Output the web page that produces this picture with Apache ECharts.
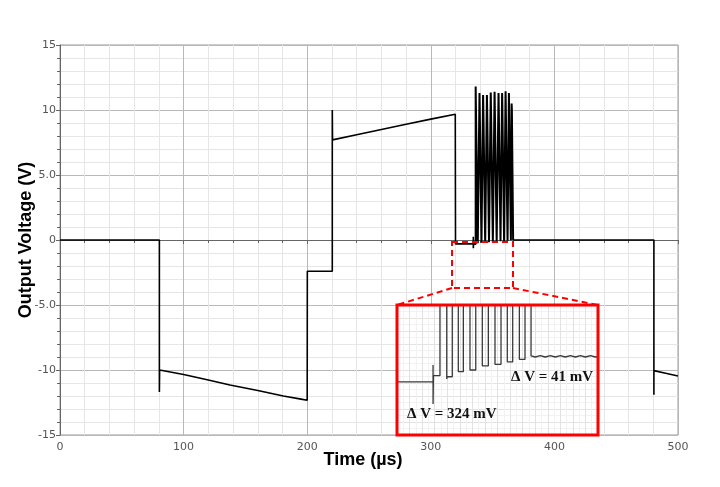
<!DOCTYPE html>
<html><head><meta charset="utf-8">
<script src="https://cdn.jsdelivr.net/npm/echarts@6/dist/echarts.min.js"></script>
<style>html,body{margin:0;padding:0;background:#fff}#c{width:720px;height:487px}</style>
</head><body><div id="c"></div>
<script>
// ---- Main trace: time (µs) / output voltage (V). Repeated times = vertical edges.
const preTime = [0, 80.4, 80.4, 80.6, 100, 120, 137.5, 160, 180.7, 195, 200.0, 200.1, 220.3, 220.3, 220.5, 240, 260, 280, 300, 319.8, 320.0, 334.4, 334.4, 334.4, 334.6];
const preVolt = [0, 0, -11.7, -10.0, -10.35, -10.77, -11.15, -11.58, -12.0, -12.24, -12.33, -2.4, -2.4, 10.0, 7.7, 8.1, 8.5, 8.9, 9.3, 9.68, -0.3, -0.3, 0.25, -0.64, -0.3];

// Burst of pulses (µs / V)
const burstRise  = [336.3, 339.4, 342.3, 345.4, 348.5, 351.6, 354.8, 357.7, 360.5, 363.2, 365.4];
const burstFall  = [338.0, 341.0, 344.0, 347.1, 350.2, 353.3, 356.4, 359.3, 362.1, 364.8, 366.6];
const burstPeak  = [11.8, 11.3, 11.15, 11.15, 11.35, 11.4, 11.3, 11.3, 11.45, 11.3, 10.5];
const burstTop   = [10.3, 10.2, 10.2, 10.1, 10.2, 10.1, 10.1, 10.2, 10.1, 10.1, 10.0];
const burstFloor = [-0.25, -0.22, -0.2, -0.17, -0.15, -0.12, -0.1, -0.07, -0.05, -0.02, 0.0];

const postTime = [366.6, 480.5, 480.5, 480.5, 480.7, 490, 500];
const postVolt = [0, 0, -11.9, -10.05, -10.05, -10.25, -10.46];

// ---- Inset (magnified view), in inset grid divisions
const insetX = [0, 2.87, 2.87, 2.87, 2.9, 3.42, 3.42,
  3.96, 3.96, 3.98, 4.40, 4.40,
  4.88, 4.88, 5.28, 5.28,
  5.81, 5.81, 6.27, 6.27,
  6.79, 6.79, 7.27, 7.27,
  7.80, 7.80, 8.28, 8.28,
  8.78, 8.78, 9.21, 9.21,
  9.74, 9.74, 10.19, 10.19,
  10.67, 10.67, 11.0, 11.4, 11.8, 12.2, 12.6, 13.0, 13.4, 13.8, 14.2, 14.6, 15.0, 15.4, 15.8, 16];
const insetY = [4.08, 4.08, 5.38, 2.38, 4.56, 4.56, 12,
  12, 4.3, 4.48, 4.48, 12,
  12, 4.87, 4.87, 12,
  12, 5.0, 5.0, 12,
  12, 5.31, 5.31, 12,
  12, 5.44, 5.44, 12,
  12, 5.62, 5.62, 12,
  12, 5.82, 5.82, 12,
  12, 6.08, 6.0, 6.1, 6.0, 6.1, 6.0, 6.1, 6.0, 6.1, 6.0, 6.1, 6.0, 6.1, 6.0, 6.05];

// ---- Tick labels
const xTickValues = [0, 100, 200, 300, 400, 500];
const xTickLabels = ['0', '100', '200', '300', '400', '500'];
const yTickValues = [-15, -10, -5, 0, 5, 10, 15];
const yTickLabels = ['-15', '-10', '-5.0', '0', '5.0', '10', '15'];

const annotations = ['\u0394 V = 41 mV', '\u0394 V = 324 mV'];

// build series
const preData = preTime.map((t, i) => [t, preVolt[i]]);
const burstData = [[334.6, -0.3]];
let prev = -0.3;
burstRise.forEach((tr, i) => {
  burstData.push([tr, prev]);
  burstData.push([tr, burstPeak[i]]);
  burstData.push([tr + 0.2, burstTop[i]]);
  burstData.push([burstFall[i], burstTop[i]]);
  burstData.push([burstFall[i], burstFloor[i]]);
  prev = burstFloor[i];
});
const postData = postTime.map((t, i) => [t, postVolt[i]]);
const insetData = insetX.map((x, i) => [x, insetY[i]]);

const chart = echarts.init(document.getElementById('c'));
const axisFont = { fontFamily: 'DejaVu Sans', fontSize: 11, color: '#555' };
const traceStyle = { color: '#000', width: 1.6 };
const insetAxisCommon = {
  axisLine: { show: false }, axisTick: { show: false }, axisLabel: { show: false },
  splitLine: { show: true, lineStyle: { color: '#e2e2e2', width: 1 } },
  minorSplitLine: { show: true, lineStyle: { color: '#f2f2f2', width: 1 } },
  minorTick: { show: false, splitNumber: 2 }
};
chart.setOption({
  animation: false,
  backgroundColor: '#fff',
  grid: [
    { left: 60, right: 42, top: 45, bottom: 52, show: true, borderColor: '#999', borderWidth: 1, backgroundColor: 'transparent', z: 0 },
    { left: 397, top: 305, width: 201, height: 130, show: true, backgroundColor: '#fff', borderWidth: 0, z: 10 }
  ],
  xAxis: [
    {
      gridIndex: 0, type: 'value', min: 0, max: 500, interval: 100,
      name: 'Time (\u00b5s)', nameLocation: 'middle', nameGap: 16, nameMoveOverlap: false,
      nameTextStyle: { fontFamily: 'Liberation Sans', fontWeight: 'bold', fontSize: 18, color: '#000', padding: [0, 12, 0, 0] },
      axisLine: { show: true, lineStyle: { color: '#666' } },
      axisTick: { show: true, length: 4, lineStyle: { color: '#666' } },
      minorTick: { show: true, splitNumber: 5, length: 3, lineStyle: { color: '#666' } },
      axisLabel: Object.assign({ margin: 7, formatter: v => xTickLabels[xTickValues.indexOf(v)] ?? '' }, axisFont),
      splitLine: { show: true, lineStyle: { color: '#b8b8b8', width: 1 } },
      minorSplitLine: { show: true, lineStyle: { color: '#e6e6e6', width: 1 } }
    },
    Object.assign({ gridIndex: 1, type: 'value', min: 0, max: 16, interval: 1, z: 11 }, insetAxisCommon)
  ],
  yAxis: [
    {
      gridIndex: 0, type: 'value', min: -15, max: 15, interval: 5,
      name: 'Output Voltage (V)', nameLocation: 'middle', nameGap: 25, nameRotate: 90, nameMoveOverlap: false,
      nameTextStyle: { fontFamily: 'Liberation Sans', fontWeight: 'bold', fontSize: 18, color: '#000' },
      axisLine: { show: true, lineStyle: { color: '#666' } },
      axisTick: { show: true, length: 4, lineStyle: { color: '#666' } },
      minorTick: { show: true, splitNumber: 5, length: 3, lineStyle: { color: '#666' } },
      axisLabel: Object.assign({ margin: 4, formatter: v => yTickLabels[yTickValues.indexOf(v)] ?? '' }, axisFont),
      splitLine: { show: true, lineStyle: { color: '#b8b8b8', width: 1 } },
      minorSplitLine: { show: true, lineStyle: { color: '#e6e6e6', width: 1 } }
    },
    Object.assign({ gridIndex: 1, type: 'value', min: 0, max: 10, interval: 1, z: 11 }, insetAxisCommon)
  ],
  series: [
    { type: 'line', xAxisIndex: 0, yAxisIndex: 0, data: preData, showSymbol: false, lineStyle: traceStyle, clip: true, z: 3 },
    { type: 'line', xAxisIndex: 0, yAxisIndex: 0, data: burstData, showSymbol: false, lineStyle: { color: '#000', width: 2 }, clip: true, z: 3 },
    { type: 'line', xAxisIndex: 0, yAxisIndex: 0, data: postData, showSymbol: false, lineStyle: traceStyle, clip: true, z: 3 },
    { type: 'line', xAxisIndex: 1, yAxisIndex: 1, data: insetData, showSymbol: false, lineStyle: { color: '#3a3a3a', width: 1.3 }, clip: true, z: 12 }
  ],
  graphic: [
    { type: 'rect', z: 100, shape: { x: 452, y: 242, width: 61, height: 46 },
      style: { fill: 'none', stroke: '#ff0000', lineWidth: 2, lineDash: [6, 4] } },
    { type: 'line', z: 100, shape: { x1: 452, y1: 288, x2: 397, y2: 305 },
      style: { stroke: '#ff0000', lineWidth: 2, lineDash: [6, 4] } },
    { type: 'line', z: 100, shape: { x1: 513, y1: 288, x2: 598, y2: 305 },
      style: { stroke: '#ff0000', lineWidth: 2, lineDash: [6, 4] } },
    { type: 'rect', z: 100, shape: { x: 397, y: 305, width: 201, height: 130 },
      style: { fill: 'none', stroke: '#ff0000', lineWidth: 3 } },
    { type: 'text', z: 101, x: 511, y: 377,
      style: { text: annotations[0], font: 'bold 15px "Liberation Serif"', fill: '#111', verticalAlign: 'middle', align: 'left' } },
    { type: 'text', z: 101, x: 407, y: 414,
      style: { text: annotations[1], font: 'bold 15px "Liberation Serif"', fill: '#111', verticalAlign: 'middle', align: 'left' } }
  ]
});
</script></body></html>
